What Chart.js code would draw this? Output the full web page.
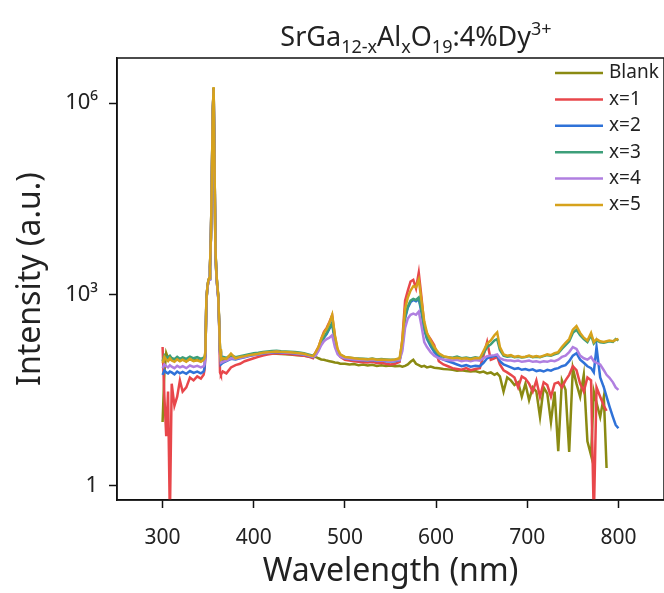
<!DOCTYPE html>
<html>
<head>
<meta charset="utf-8">
<script src="https://cdn.jsdelivr.net/npm/chart.js@4.4.0/dist/chart.umd.min.js"></script>
<style>
  html, body { margin: 0; padding: 0; background: #fff; }
  #wrap { width: 664px; height: 593px; }
</style>
</head>
<body>
<div id="wrap"><canvas id="spectra"></canvas></div>
<script>
// wavelength grid (nm), finer around the 355 nm excitation line
const wavelength = [
  300,302,304,306,308,310,313,316,319,322,326,330,334,338,342,345,
  346,347,348,349,350,351,352,353,354,355,356,357,358,359,360,361,362,363,364,
  366,370,375,380,385,390,395,400,405,410,415,420,425,430,435,440,445,450,455,460,465,
  468,471,474,477,480,483,486,489,492,495,
  500,505,510,515,520,525,530,535,540,545,550,555,560,
  563,566,569,572,575,578,581,584,587,590,594,598,
  603,608,613,618,623,628,633,638,643,648,
  652,656,660,664,667,670,674,678,
  682,686,690,694,698,702,706,710,714,718,722,726,730,734,738,742,746,750,754,758,762,766,770,773,776,780,784,787,790,794,797,800
];

const blank = [
  10,60,120,100,95,100,95,98,92,96,90,97,92,95,90,94,
  95,120,790,1230,1580,1780,2750,7900,59000,690000,1750000,98000,4900,2150,1380,980,390,130,92,
  95,96,110,100,104,108,112,114,116,118,120,120,118,117,116,115,113,112,110,108,106,
  105,100,96,95,92,90,88,86,85,82,
  82,80,81,78,80,77,79,76,78,76,77,75,76,
  74,76,80,88,95,82,78,74,76,72,74,71,
  70,68,67,66,64,65,63,62,63,60,
  62,58,60,55,58,52,30,50,
  45,38,42,25,40,22,35,30,12,35,28,10,30,3.5,45,32,3.4,70,40,25,55,5,3,30,20,12,25,1.9,null,null,null,null
];

const x1 = [
  150,25,6,30,0.3,40,18,25,45,30,35,50,45,52,48,55,
  65,110,780,1220,1560,1760,2700,7700,57000,670000,1700000,93000,4700,2050,1320,920,360,60,55,
  62,58,72,78,82,90,95,100,105,110,114,118,120,118,118,116,114,112,110,106,100,
  125,150,200,260,300,370,470,220,130,105,
  95,92,90,88,87,86,88,84,85,82,80,82,88,
  200,800,1150,1600,1700,1250,2200,900,330,240,200,160,
  90,80,75,70,68,66,70,65,68,70,
  110,180,95,100,105,80,65,60,
  55,50,35,52,48,40,30,45,25,42,38,25,40,42,35,45,55,75,65,40,30,50,45,0.3,35,25,18,15,null,null,null,null
];

const x2 = [
  55,65,60,58,62,60,56,62,58,61,57,63,59,62,58,62,
  70,115,770,1200,1550,1750,2650,7600,56000,660000,1680000,92000,4700,2050,1320,920,370,125,80,
  85,90,98,96,100,104,108,112,115,119,121,123,125,123,122,121,119,117,114,109,104,
  115,135,170,210,240,290,350,180,125,108,
  100,97,95,94,93,92,94,91,92,90,89,90,93,
  150,420,620,760,820,780,850,520,280,200,155,125,
  105,95,90,85,80,75,78,74,76,75,
  85,100,105,108,110,90,80,76,
  72,68,70,66,68,65,67,63,65,62,66,64,68,70,75,78,90,110,120,95,85,75,70,60,150,50,35,25,18,12,9,8
];

const x3 = [
  90,110,100,105,110,100,97,105,98,103,98,106,100,104,98,102,
  100,125,780,1200,1550,1750,2700,7800,58000,680000,1700000,95000,4800,2100,1350,950,380,135,100,
  105,102,112,104,108,112,116,120,122,126,128,130,131,129,128,127,125,123,120,115,110,
  120,140,175,215,250,300,360,190,130,112,
  104,102,100,99,98,97,99,96,97,96,95,96,98,
  160,450,650,800,850,820,900,560,300,210,165,135,
  115,106,104,102,106,100,103,99,104,100,
  120,150,165,190,200,135,110,106,
  108,104,106,103,105,108,104,106,104,108,112,110,115,120,140,160,185,250,280,230,200,180,230,170,190,178,175,180,185,180,200,190
];

const x4 = [
  70,80,75,72,78,74,70,76,72,75,70,77,73,76,72,75,
  80,120,760,1200,1500,1700,2600,7500,55000,650000,1650000,90000,4600,2000,1300,900,360,120,85,
  88,92,100,98,102,105,110,113,116,120,122,124,126,124,123,122,120,118,115,110,105,
  110,130,160,185,200,210,230,150,115,105,
  100,98,96,95,94,93,95,92,93,92,91,92,94,
  130,300,420,480,500,480,540,320,180,150,125,110,
  100,96,94,92,95,90,93,90,94,92,
  100,108,110,112,115,100,95,92,
  92,90,92,88,90,92,88,90,87,90,88,92,90,95,105,110,125,150,140,110,100,95,105,90,85,80,65,55,50,42,35,32
];

const x5 = [
  85,105,95,90,100,92,88,96,90,95,88,98,90,93,88,95,
  100,130,800,1250,1600,1800,2800,8000,60000,700000,1780000,100000,5000,2200,1400,1000,400,140,95,
  100,98,118,100,105,108,112,115,118,122,124,126,128,126,125,124,122,120,118,112,108,
  125,150,200,250,290,360,480,230,140,115,
  105,103,100,98,97,96,98,95,96,95,94,96,100,
  190,600,900,1150,1350,1300,1700,800,380,250,190,150,
  120,108,104,100,102,98,100,97,101,100,
  130,170,190,230,255,150,115,110,
  112,105,108,104,106,110,105,108,105,110,115,112,120,125,150,175,200,280,320,250,210,190,250,180,200,185,180,185,190,185,195,200
];

const seriesNames = ['Blank', 'x=1', 'x=2', 'x=3', 'x=4', 'x=5'];
const seriesData = [blank, x1, x2, x3, x4, x5];
const seriesColors = ['#8a8a12', '#e8474b', '#2f72d8', '#3d9f7a', '#b07fe0', '#d6a21c'];

const xTicks = [300, 400, 500, 600, 700, 800];
const yTicks = [1, 1e3, 1e6];
const yTickLabels = ['1', '10\u00b3', '10\u2076'];

const FONT = '"Noto Sans", "DejaVu Sans", sans-serif';

// title with sub/superscripts
const titleParts = [
  ['SrGa', 'n'], ['12-x', 'sub'], ['Al', 'n'], ['x', 'sub'], ['O', 'n'],
  ['19', 'sub'], [':4%Dy', 'n'], ['3+', 'sup']
];

const richTitle = {
  id: 'richTitle',
  afterDraw(chart) {
    const ctx = chart.ctx;
    ctx.save();
    ctx.fillStyle = '#222';
    ctx.textBaseline = 'alphabetic';
    const big = '27px ' + FONT, small = '18px ' + FONT;
    let w = 0;
    titleParts.forEach(p => {
      ctx.font = p[1] === 'n' ? big : small;
      w += ctx.measureText(p[0]).width;
    });
    let x = 416 - w / 2;
    const base = 46;
    titleParts.forEach(p => {
      ctx.font = p[1] === 'n' ? big : small;
      let y = base;
      if (p[1] === 'sub') y += 7;
      if (p[1] === 'sup') y -= 11;
      ctx.fillText(p[0], x, y);
      x += ctx.measureText(p[0]).width;
    });
    ctx.restore();
  }
};

// box round the plot + legend in upper right
const frameAndLegend = {
  id: 'frameAndLegend',
  afterDatasetsDraw(chart) {
    const ctx = chart.ctx;
    const a = chart.chartArea;
    ctx.save();
    ctx.strokeStyle = '#111';
    ctx.lineWidth = 1.5;
    ctx.strokeRect(a.left, a.top, a.right - a.left, a.bottom - a.top);

    ctx.font = '19px ' + FONT;
    ctx.textBaseline = 'middle';
    chart.data.datasets.forEach((ds, i) => {
      const y = 73 + i * 26.4;
      ctx.strokeStyle = ds.borderColor;
      ctx.lineWidth = 2.5;
      ctx.beginPath();
      ctx.moveTo(555, y);
      ctx.lineTo(603, y);
      ctx.stroke();
      ctx.fillStyle = '#222';
      ctx.fillText(ds.label, 609, y);
    });
    ctx.restore();
  }
};

const datasets = seriesNames.map((name, i) => ({
  label: name,
  data: wavelength.map((w, j) => ({ x: w, y: seriesData[i][j] })),
  borderColor: seriesColors[i],
  backgroundColor: seriesColors[i],
  borderWidth: 2.5,
  pointRadius: 0,
  tension: 0,
  spanGaps: false,
  order: seriesNames.length - i
}));

new Chart(document.getElementById('spectra'), {
  type: 'line',
  data: { datasets: datasets },
  options: {
    responsive: true,
    maintainAspectRatio: false,
    animation: false,
    layout: { padding: { top: 58, right: 0, left: 0, bottom: 0 } },
    plugins: {
      legend: { display: false },
      tooltip: { enabled: false },
      title: { display: false }
    },
    scales: {
      x: {
        type: 'linear',
        min: 250,
        max: 850,
        afterBuildTicks: s => { s.ticks = xTicks.map(v => ({ value: v })); },
        afterFit: s => { s.height = 93; },
        ticks: { color: '#222', font: { family: FONT, size: 21 }, padding: 17, maxRotation: 0 },
        grid: { drawOnChartArea: false, tickLength: 8, color: '#111', tickWidth: 1.5 },
        border: { color: '#111', width: 1.5 },
        title: { display: true, text: 'Wavelength (nm)', color: '#222', font: { family: FONT, size: 32 }, padding: { top: 0, bottom: 2 } }
      },
      y: {
        type: 'logarithmic',
        min: 0.6,
        max: 5.1e6,
        afterBuildTicks: s => { s.ticks = yTicks.map(v => ({ value: v })); },
        afterFit: s => { s.width = 117; },
        ticks: {
          color: '#222',
          font: { family: FONT, size: 22 },
          padding: 11,
          callback: v => yTickLabels[yTicks.indexOf(v)]
        },
        grid: { drawOnChartArea: false, tickLength: 8, color: '#111', tickWidth: 1.5 },
        border: { color: '#111', width: 1.5 },
        title: { display: true, text: 'Intensity (a.u.)', color: '#222', font: { family: FONT, size: 32 }, padding: { top: 12, bottom: 0 } }
      }
    }
  },
  plugins: [richTitle, frameAndLegend]
});
</script>
</body>
</html>
